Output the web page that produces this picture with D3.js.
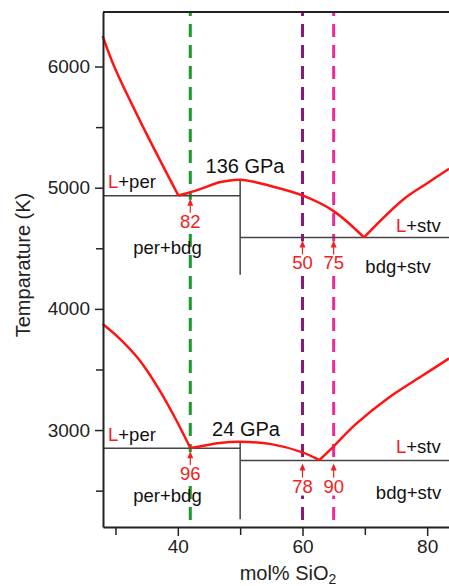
<!DOCTYPE html>
<html>
<head>
<meta charset="utf-8">
<script src="https://cdn.jsdelivr.net/npm/d3@7"></script>
<style>
  body { margin: 0; background: #fff; }
  svg { display: block; font-family: "Liberation Sans", Arial, sans-serif; }
</style>
</head>
<body>
<svg id="chart" width="449" height="586"></svg>
<script>
// liquidus branches, [mol% SiO2, T (K)]
const hiPer = [[27.94, 6253], [29.8, 6000], [34.4, 5504], [40.1, 4935]];
const hiBdg = [[40.1, 4935], [42, 4962], [44, 4996], [46.7, 5045], [50, 5066], [54.74, 5016], [60, 4936], [65, 4807], [69.86, 4590]];
const hiStv = [[69.86, 4590], [76.17, 4903], [79.94, 5035], [83.52, 5157]];
const loPer = [[27.94, 3875], [30.63, 3757], [33.84, 3578], [37.06, 3330], [39.74, 3083], [42, 2852]];
const loBdg = [[42, 2852], [43.5, 2864], [46.7, 2893], [50, 2903], [55, 2884], [60, 2816], [62.7, 2752]];
const loStv = [[62.7, 2752], [64.92, 2862], [68.68, 3055], [74.04, 3275], [79.39, 3454], [83.52, 3592]];

// solidus / subsolidus boundaries
const hLines = [[28, 50, 4933], [50, 85, 4590], [28, 50, 2850], [50, 85, 2748]];
const vLines = [[50, 5066, 4282], [50, 2903, 2264]];

// compositions marked by dashed lines
const dashX = [42, 60, 65];
const dashColors = ["#1a9a2e", "#8a1a78", "#ec2a9c"];

// melt fraction labels
const marks = [[42, 4933, "82"], [60, 4590, "50"], [65, 4590, "75"], [42, 2850, "96"], [60, 2748, "78"], [65, 2748, "90"]];

const xMajor = [40, 60, 80];
const xMinor = [30, 50, 70];
const yMajor = [3000, 4000, 5000, 6000];
const yMinor = [2500, 3500, 4500, 5500];

const svg = d3.select("#chart");
const red = "#ff1414";
const txtRed = "#ee2222";

const x = d3.scaleLinear().domain([28, 83.5]).range([103, 449]);
const y = d3.scaleLinear().domain([2200, 6450]).range([527, 12]);

// frame top
svg.append("line")
  .attr("x1", 103).attr("x2", 449).attr("y1", 12).attr("y2", 12)
  .attr("stroke", "#222").attr("stroke-width", 2);

// dashed composition lines
dashX.forEach((d, i) => {
  svg.append("line")
    .attr("x1", x(d)).attr("x2", x(d))
    .attr("y1", 13).attr("y2", 527)
    .attr("stroke", dashColors[i])
    .attr("stroke-width", 3)
    .attr("stroke-dasharray", "13,8")
    .attr("stroke-dashoffset", 10);
});

// phase boundaries
hLines.forEach(d => {
  svg.append("line")
    .attr("x1", x(d[0])).attr("x2", x(d[1]))
    .attr("y1", y(d[2])).attr("y2", y(d[2]))
    .attr("stroke", "#444").attr("stroke-width", 1.5);
});
vLines.forEach(d => {
  svg.append("line")
    .attr("x1", x(d[0])).attr("x2", x(d[0]))
    .attr("y1", y(d[1])).attr("y2", y(d[2]))
    .attr("stroke", "#444").attr("stroke-width", 1.5);
});

// liquidus curves
const line = d3.line().x(d => x(d[0])).y(d => y(d[1])).curve(d3.curveCatmullRom.alpha(0.5));
[hiPer, hiBdg, hiStv, loPer, loBdg, loStv].forEach(d => {
  svg.append("path")
    .attr("d", line(d))
    .attr("fill", "none")
    .attr("stroke", red)
    .attr("stroke-width", 2.5)
    .attr("stroke-linejoin", "round");
});

// arrows + numbers (knock out the dashed line behind them)
marks.forEach(d => {
  const px = x(d[0]);
  const tip = y(d[1]) + 3;
  const tail = tip + 14;
  svg.append("rect")
    .attr("x", px - 11).attr("y", tip + 1)
    .attr("width", 22).attr("height", 31)
    .attr("fill", "#fff");
  svg.append("line")
    .attr("x1", px).attr("x2", px).attr("y1", tip + 4).attr("y2", tail)
    .attr("stroke", txtRed).attr("stroke-width", 1.2);
  svg.append("path")
    .attr("d", `M${px},${tip} L${px - 3},${tip + 7} L${px + 3},${tip + 7} Z`)
    .attr("fill", txtRed);
  svg.append("text")
    .attr("x", px).attr("y", tail + 15)
    .attr("text-anchor", "middle")
    .attr("fill", txtRed)
    .style("font-size", "18.5px")
    .text(d[2]);
});

// axes
svg.append("g").attr("transform", "translate(103,0)")
  .call(d3.axisLeft(y).tickValues(yMajor).tickSize(8).tickPadding(5).tickSizeOuter(0).tickFormat(d3.format("d")));
svg.append("g").attr("transform", "translate(103,0)")
  .call(d3.axisLeft(y).tickValues(yMinor).tickSize(7).tickFormat("").tickSizeOuter(0))
  .select(".domain").remove();
svg.append("g").attr("transform", "translate(0,527)")
  .call(d3.axisBottom(x).tickValues(xMajor).tickSize(9).tickPadding(4).tickSizeOuter(0));
svg.append("g").attr("transform", "translate(0,527)")
  .call(d3.axisBottom(x).tickValues(xMinor).tickSize(8).tickFormat("").tickSizeOuter(0))
  .select(".domain").remove();

svg.selectAll(".domain").attr("stroke", "#222").attr("stroke-width", 2);
svg.selectAll(".tick line").attr("stroke", "#222").attr("stroke-width", 1.5);
svg.selectAll(".tick text").attr("fill", "#222").style("font-size", "19px")
  .style("font-family", "'Liberation Sans', Arial, sans-serif");

// axis titles
svg.append("text")
  .attr("transform", "translate(30,265) rotate(-90)")
  .attr("text-anchor", "middle")
  .style("font-size", "20px")
  .attr("fill", "#222")
  .text("Temparature (K)");

const xt = svg.append("text")
  .attr("x", 288).attr("y", 580)
  .attr("text-anchor", "middle")
  .style("font-size", "20px")
  .attr("fill", "#222");
xt.append("tspan").text("mol% SiO");
xt.append("tspan").attr("dy", 4).style("font-size", "14px").text("2");

// pressure labels
svg.append("text").attr("x", 245).attr("y", 173).attr("text-anchor", "middle")
  .style("font-size", "20px").attr("fill", "#111").text("136 GPa");
svg.append("text").attr("x", 246).attr("y", 436).attr("text-anchor", "middle")
  .style("font-size", "20px").attr("fill", "#111").text("24 GPa");

// phase field labels
const fieldLabel = (px, py, a, b, anchor) => {
  const t = svg.append("text").attr("x", px).attr("y", py)
    .attr("text-anchor", anchor || "start")
    .style("font-size", "18.5px").attr("fill", "#111");
  if (a) t.append("tspan").attr("fill", txtRed).text(a);
  t.append("tspan").text(b);
};
fieldLabel(108, 188, "L", "+per");
fieldLabel(108, 441, "L", "+per");
fieldLabel(396, 231.5, "L", "+stv");
fieldLabel(396, 452.5, "L", "+stv");
fieldLabel(167.5, 254, null, "per+bdg", "middle");
fieldLabel(167.5, 502, null, "per+bdg", "middle");
fieldLabel(398, 273, null, "bdg+stv", "middle");
fieldLabel(408.5, 499, null, "bdg+stv", "middle");
</script>
</body>
</html>
